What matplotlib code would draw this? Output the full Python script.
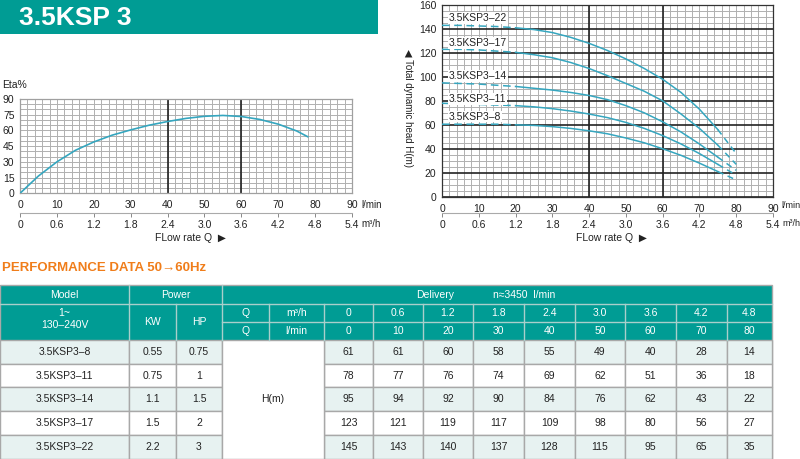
import numpy as np
import matplotlib.pyplot as plt
from matplotlib.patches import Rectangle

plt.rcParams['font.family'] = ['Liberation Sans', 'DejaVu Sans']

# ---- data ----
flow_lmin = [0, 10, 20, 30, 40, 50, 60, 70, 80, 90]
flow_m3h = ['0', '0.6', '1.2', '1.8', '2.4', '3.0', '3.6', '4.2', '4.8', '5.4']
eta_ticks = [0, 15, 30, 45, 60, 75, 90]
head_ticks = [0, 20, 40, 60, 80, 100, 120, 140, 160]

# efficiency curve
eta_q = [0, 5, 10, 15, 20, 25, 30, 35, 40, 45, 50, 55, 60, 65, 70, 75, 78]
eta_val = [0, 16.5, 30, 41, 49, 55.5, 60.5, 65, 68.5, 71.5, 73.5, 74.3, 73.3, 70.5, 66, 59.5, 54]

# head curves
curve_q = [0, 5, 10, 15, 20, 25, 30, 35, 40, 45, 50, 55, 60, 65, 70, 75, 80]
curve_names = ['3.5KSP3–8', '3.5KSP3–11', '3.5KSP3–14', '3.5KSP3–17', '3.5KSP3–22']
curve_h = [
    [60.5, 60.5, 60.5, 60.5, 60, 59.5, 58.5, 57, 55, 52.5, 49, 45, 40, 34.5, 28, 21, 14],
    [78, 77.5, 77, 76.5, 76, 75, 73.5, 71.5, 69, 66, 62, 57, 51, 44, 36, 27, 18],
    [95, 94.5, 94, 93, 92, 90.5, 89, 87, 84.5, 81, 76, 70, 62.5, 54, 44, 33, 22],
    [123, 123, 122.5, 121.5, 120.5, 118.5, 116, 112, 107, 101, 94.5, 88, 80, 69, 57, 43, 27],
    [143, 143, 142.5, 142, 141, 139.5, 137, 133, 128, 122, 115, 107, 98, 87, 73, 56, 36],
]

# performance table
models = ['3.5KSP3–8', '3.5KSP3–11', '3.5KSP3–14', '3.5KSP3–17', '3.5KSP3–22']
power_kw = ['0.55', '0.75', '1.1', '1.5', '2.2']
power_hp = ['0.75', '1', '1.5', '2', '3']
table_m3h = ['0', '0.6', '1.2', '1.8', '2.4', '3.0', '3.6', '4.2', '4.8']
table_lmin = ['0', '10', '20', '30', '40', '50', '60', '70', '80']
table_head = [
    [61, 61, 60, 58, 55, 49, 40, 28, 14],
    [78, 77, 76, 74, 69, 62, 51, 36, 18],
    [95, 94, 92, 90, 84, 76, 62, 43, 22],
    [123, 121, 119, 117, 109, 98, 80, 56, 27],
    [145, 143, 140, 137, 128, 115, 95, 65, 35],
]

TEAL = '#009c94'
CURVE = '#35a6bf'
W, H = 800, 459

fig = plt.figure(figsize=(8, 4.59), dpi=100)

# overlay in pixel coordinates for banner, labels and table
ov = fig.add_axes([0, 0, 1, 1], zorder=0)
ov.set_xlim(0, W)
ov.set_ylim(H, 0)
ov.axis('off')


def px_axes(x0, y0, x1, y1):
    return fig.add_axes([x0 / W, 1 - y1 / H, (x1 - x0) / W, (y1 - y0) / H], zorder=2)


def style_grid(ax, ymajor, frame):
    ax.set_xticks(np.arange(0, 91, 2), minor=True)
    ax.set_yticks(np.arange(0, ymajor[-1] + 1, 5), minor=True)
    ax.set_xticks(flow_lmin)
    ax.set_yticks(ymajor)
    ax.grid(which='both', color='#b0b0b0', lw=0.7)
    ax.set_axisbelow(True)
    ax.tick_params(which='both', length=0)
    ax.tick_params(axis='x', pad=5, labelsize=7.5, colors='#222')
    ax.tick_params(axis='y', pad=4, labelsize=7.5, colors='#222')
    for s in ax.spines.values():
        s.set_color(frame)
        s.set_linewidth(0.9)


def add_m3h(ax, loc):
    sec = ax.secondary_xaxis(loc, functions=(lambda x: x * 0.06, lambda x: x / 0.06))
    sec.set_xticks([float(v) for v in flow_m3h], labels=flow_m3h)
    sec.tick_params(length=3, width=0.7, color='#888', pad=2, labelsize=7.5, labelcolor='#222')
    sec.spines['bottom'].set_color('#aaa')
    sec.spines['bottom'].set_linewidth(0.8)


# ---- banner ----
ov.add_patch(Rectangle((0, 0), 378, 34, color=TEAL, lw=0))
ov.text(19, 18, '3.5KSP 3', color='white', fontsize=19, fontweight='bold', va='center', ha='left')

# ---- efficiency chart ----
ax1 = px_axes(20, 99, 352, 193.3)
ax1.set_xlim(0, 90)
ax1.set_ylim(0, 90)
style_grid(ax1, eta_ticks, '#a0a0a0')
for v in (40, 60):
    ax1.axvline(v, color='#222', lw=1.2)
ax1.plot(eta_q, eta_val, color=CURVE, lw=1.2, zorder=3)
add_m3h(ax1, -0.205)
ov.text(2, 85, 'Eta%', fontsize=7.5, va='center', color='#222')
ov.text(361, 205.5, 'l/min', fontsize=7, va='center', color='#222')
ov.text(361, 224, 'm³/h', fontsize=7, va='center', color='#222')
ov.text(190, 238, 'FLow rate Q  ▶', fontsize=7.5, va='center', ha='center', color='#222')

# ---- head chart ----
ax2 = px_axes(442, 5, 773, 196.7)
ax2.set_xlim(0, 90)
ax2.set_ylim(0, 160)
style_grid(ax2, head_ticks, '#333')
ax2.grid(which='major', axis='y', color='#222', lw=1.2)
ax2.grid(which='major', axis='x', color='#b0b0b0', lw=0.7)
for v in (40, 60):
    ax2.axvline(v, color='#222', lw=1.2)
q = np.array(curve_q)
solid = (q >= 20) & (q <= 75)
lead = q <= 20
tail = q >= 75
for hv in curve_h:
    hv = np.array(hv)
    ax2.plot(q[solid], hv[solid], color=CURVE, lw=1.1, zorder=3)
    ax2.plot(q[lead], hv[lead], color=CURVE, lw=1.1, ls=(0, (5, 3)), zorder=3)
    ax2.plot(q[tail], hv[tail], color=CURVE, lw=1.1, ls=(0, (4, 3)), zorder=3)
label_y = [66.8, 81.3, 100.5, 128.3, 149]
for name, ly in zip(curve_names, label_y):
    ax2.text(1.9, ly, name, fontsize=7.5, va='center', ha='left', color='#222', zorder=4,
             bbox=dict(facecolor='white', edgecolor='none', pad=0.6))
add_m3h(ax2, -0.085)
ov.text(408, 108, '◀ Total dynamic head H(m)', fontsize=7, rotation=270,
        va='center', ha='center', color='#222')
ov.text(800, 205.5, 'l/min', fontsize=6.5, va='center', ha='right', color='#222')
ov.text(800, 224, 'm³/h', fontsize=6.5, va='center', ha='right', color='#222')
ov.text(611, 238, 'FLow rate Q  ▶', fontsize=7.5, va='center', ha='center', color='#222')

# ---- performance table ----
ov.text(2, 268, 'PERFORMANCE DATA 50→60Hz', fontsize=9.5, fontweight='bold',
        color='#f07d1a', va='center', ha='left')

col_x = [0, 129, 176, 222, 269, 324, 373, 423, 473, 524, 575, 625, 676, 727, 772]
row_y = [285, 304, 322, 340, 363.5, 387, 411, 435, 459]
line_c = '#a8a8a8'
head_line = '#a9cfcb'
fs = 7.5

# header block
ov.add_patch(Rectangle((0, row_y[0]), col_x[-1], row_y[3] - row_y[0], color=TEAL, lw=0))
ov.plot([0, col_x[-1]], [row_y[1], row_y[1]], color=head_line, lw=1)
ov.plot([col_x[3], col_x[-1]], [row_y[2], row_y[2]], color=head_line, lw=1)
for x in col_x[1:-1]:
    top = row_y[0] if x in (col_x[1], col_x[3]) else row_y[1]
    ov.plot([x, x], [top, row_y[3]], color=head_line, lw=1)
ov.add_patch(Rectangle((0, row_y[0]), col_x[-1], row_y[-1] - row_y[0], fill=False,
                       edgecolor=line_c, lw=1))

hy1 = (row_y[0] + row_y[1]) / 2
hy2 = (row_y[1] + row_y[2]) / 2
hy3 = (row_y[2] + row_y[3]) / 2
hy23 = (row_y[1] + row_y[3]) / 2
ov.text(64.5, hy1, 'Model', color='white', fontsize=fs, ha='center', va='center')
ov.text(175.5, hy1, 'Power', color='white', fontsize=fs, ha='center', va='center')
ov.text(435, hy1, 'Delivery', color='white', fontsize=fs, ha='center', va='center')
ov.text(493, hy1, 'n≈3450  l/min', color='white', fontsize=fs, ha='left', va='center')
ov.text(64.5, 313, '1~', color='white', fontsize=fs, ha='center', va='center')
ov.text(64.5, 325, '130–240V', color='white', fontsize=fs, ha='center', va='center')
ov.text(152.5, hy23, 'KW', color='white', fontsize=fs, ha='center', va='center')
ov.text(199, hy23, 'HP', color='white', fontsize=fs, ha='center', va='center')
ov.text(245.5, hy2, 'Q', color='white', fontsize=fs, ha='center', va='center')
ov.text(296.5, hy2, 'm³/h', color='white', fontsize=fs, ha='center', va='center')
ov.text(245.5, hy3, 'Q', color='white', fontsize=fs, ha='center', va='center')
ov.text(296.5, hy3, 'l/min', color='white', fontsize=fs, ha='center', va='center')
for j in range(len(table_m3h)):
    cx = (col_x[5 + j] + col_x[6 + j]) / 2
    ov.text(cx, hy2, table_m3h[j], color='white', fontsize=fs, ha='center', va='center')
    ov.text(cx, hy3, table_lmin[j], color='white', fontsize=fs, ha='center', va='center')

# data rows
for i in range(len(models)):
    y0, y1 = row_y[3 + i], row_y[4 + i]
    fill = '#e7f2f1' if i % 2 == 0 else 'white'
    cy = (y0 + y1) / 2
    cells = [(0, 1, models[i]), (1, 2, power_kw[i]), (2, 3, power_hp[i])]
    cells += [(5 + j, 6 + j, str(table_head[i][j])) for j in range(len(table_head[i]))]
    for c0, c1, txt in cells:
        ov.add_patch(Rectangle((col_x[c0], y0), col_x[c1] - col_x[c0], y1 - y0,
                               facecolor=fill, edgecolor=line_c, lw=1))
        ov.text((col_x[c0] + col_x[c1]) / 2, cy + 0.5, txt, fontsize=fs, color='#222',
                ha='center', va='center')
ov.add_patch(Rectangle((col_x[3], row_y[3]), col_x[5] - col_x[3], row_y[-1] - row_y[3],
                       facecolor='white', edgecolor=line_c, lw=1))
ov.text((col_x[3] + col_x[5]) / 2, (row_y[3] + row_y[-1]) / 2, 'H(m)', fontsize=fs,
        color='#222', ha='center', va='center')

fig.savefig('out.png', dpi=100)
